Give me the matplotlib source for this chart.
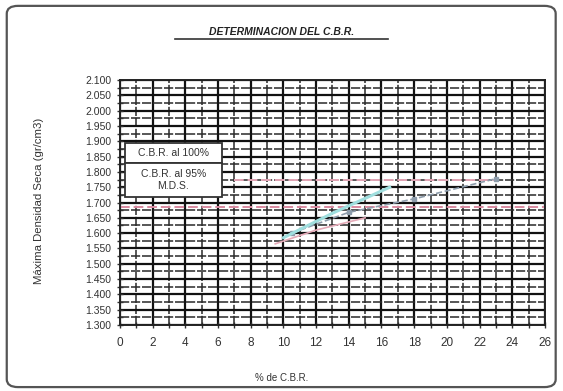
import matplotlib
matplotlib.use('Agg')
import matplotlib.pyplot as plt
from matplotlib.patches import FancyBboxPatch, Rectangle
from matplotlib.ticker import MultipleLocator

plt.rcParams['font.family'] = ['Liberation Sans', 'DejaVu Sans']

# curva densidad vs CBR (lectura aproximada del escaneo)
cbr_curva = [10.0, 13.0, 16.5]
dens_curva = [1.585, 1.665, 1.750]

cbr_puntos = [10.5, 14.0, 18.0, 23.0]
dens_puntos = [1.600, 1.668, 1.712, 1.778]

cbr_inf = [9.5, 12.0, 15.0]
dens_inf = [1.565, 1.610, 1.650]

# lineas de MDS
mds_100 = 1.775
mds_95 = 1.686
rango_100 = [7.0, 23.0]
rango_95 = [0.0, 26.0]

y_ticks = [1.300, 1.350, 1.400, 1.450, 1.500, 1.550, 1.600, 1.650, 1.700,
           1.750, 1.800, 1.850, 1.900, 1.950, 2.000, 2.050, 2.100]
x_ticks = list(range(0, 27, 2))

fig = plt.figure(figsize=(5.63, 3.91), dpi=100)
fig.patches.append(FancyBboxPatch((0.012, 0.01), 0.975, 0.975,
                                  boxstyle='round,pad=0,rounding_size=0.02',
                                  transform=fig.transFigure, fill=False,
                                  edgecolor='#555555', linewidth=1.6))

ax = fig.add_axes([0.213, 0.169, 0.755, 0.626])
ax.set_xlim(0, 26)
ax.set_ylim(1.300, 2.100)
ax.set_xticks(x_ticks)
ax.set_yticks(y_ticks)
ax.set_yticklabels([f'{v:.3f}' for v in y_ticks])
ax.xaxis.set_minor_locator(MultipleLocator(1))
ax.yaxis.set_minor_locator(MultipleLocator(0.025))
ax.grid(which='major', color='#111111', linewidth=1.6)
ax.grid(which='minor', color='#2a2a2a', linewidth=1.1, linestyle=(0, (6, 1.2)))
ax.set_axisbelow(True)
ax.tick_params(which='both', direction='inout', length=5, width=1, colors='#333333')
ax.tick_params(axis='x', labelsize=8.5, pad=6)
ax.tick_params(axis='y', labelsize=7.5)
for s in ax.spines.values():
    s.set_color('#222222')
    s.set_linewidth(1.4)

ax.plot(rango_100, [mds_100, mds_100], color='#e3a6b6', linewidth=1.4, linestyle=(0, (5, 2)))
ax.plot(rango_95, [mds_95, mds_95], color='#d98aa0', linewidth=1.4, linestyle=(0, (5, 2)))
ax.plot(cbr_inf, dens_inf, color='#e5aab8', linewidth=1.2)
ax.plot(cbr_puntos, dens_puntos, color='#8d9cab', linewidth=1.2, linestyle='--',
        marker='s', markersize=3)
ax.plot(cbr_curva, dens_curva, color='#9fdede', linewidth=2.2)

fig.text(0.5, 0.918, 'DETERMINACION DEL C.B.R.', ha='center', va='center',
         fontsize=7.5, fontweight='bold', fontstyle='italic', color='#222222')
fig.add_artist(plt.Line2D([0.31, 0.69], [0.9, 0.9], transform=fig.transFigure,
                          color='#333333', linewidth=1.2))
fig.text(0.07, 0.485, 'Máxima Densidad Seca (gr/cm3)', rotation=90, ha='center',
         va='center', fontsize=8.2, color='#333333')
fig.text(0.5, 0.033, '% de C.B.R.', ha='center', va='center', fontsize=7, color='#333333')

# cuadros de leyenda apilados
for y0, h in [(0.583, 0.051), (0.496, 0.087)]:
    fig.patches.append(Rectangle((0.222, y0), 0.172, h, transform=fig.transFigure,
                                 facecolor='white', edgecolor='#333333', linewidth=1.3,
                                 zorder=5))
fig.text(0.308, 0.6085, 'C.B.R. al 100%', ha='center', va='center', fontsize=7.5,
         color='#333333', zorder=6)
fig.text(0.308, 0.5395, 'C.B.R. al 95%\nM.D.S.', ha='center', va='center', fontsize=7.5,
         color='#333333', linespacing=1.15, zorder=6)

fig.savefig('out.png', dpi=100)
plt.close(fig)
